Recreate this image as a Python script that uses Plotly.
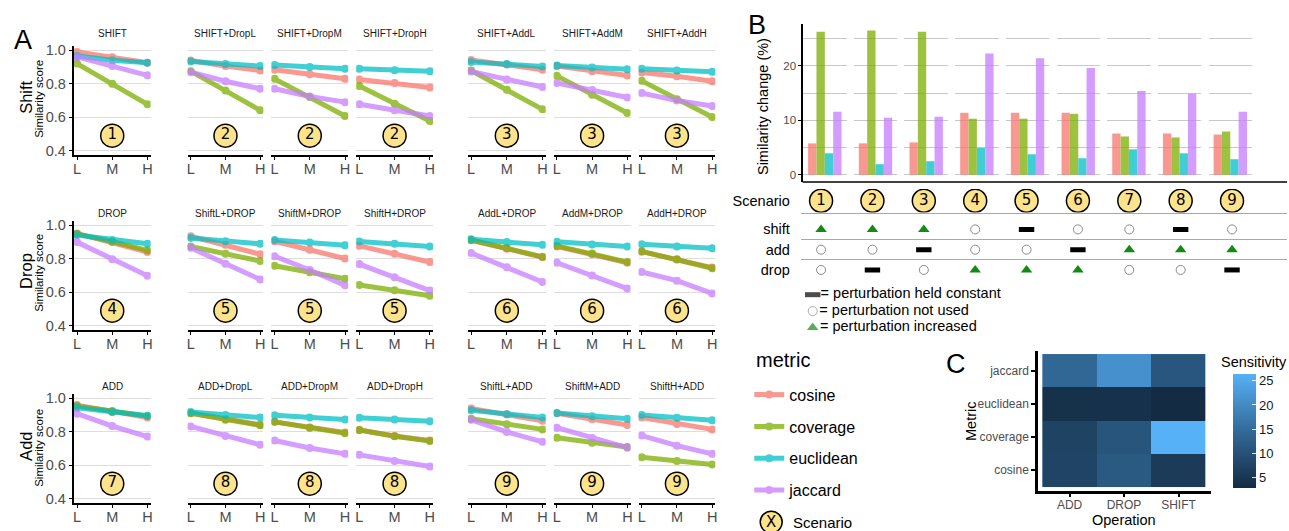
import plotly.graph_objects as go

W, H = 1289, 531
FONT = "Liberation Sans"
GRAY = "#4D4D4D"

# ---------------- data ----------------
levels = ["L", "M", "H"]
metrics = ["cosine", "coverage", "euclidean", "jaccard"]
metric_colors = ["#F8766D", "#7CAE00", "#00BFC4", "#C77CFF"]

row_names = ["Shift", "Drop", "Add"]
panel_titles = [
    ["SHIFT", "SHIFT+DropL", "SHIFT+DropM", "SHIFT+DropH", "SHIFT+AddL", "SHIFT+AddM", "SHIFT+AddH"],
    ["DROP", "ShiftL+DROP", "ShiftM+DROP", "ShiftH+DROP", "AddL+DROP", "AddM+DROP", "AddH+DROP"],
    ["ADD", "ADD+DropL", "ADD+DropM", "ADD+DropH", "ShiftL+ADD", "ShiftM+ADD", "ShiftH+ADD"],
]
panel_scenarios = [[1, 2, 2, 2, 3, 3, 3], [4, 5, 5, 5, 6, 6, 6], [7, 8, 8, 8, 9, 9, 9]]

cosine_scores = [
    [[0.990, 0.958, 0.925], [0.939, 0.905, 0.879], [0.883, 0.857, 0.829], [0.825, 0.804, 0.778],
     [0.942, 0.915, 0.883], [0.905, 0.875, 0.849], [0.867, 0.845, 0.815]],
    [[0.951, 0.899, 0.840], [0.934, 0.883, 0.827], [0.904, 0.854, 0.801], [0.877, 0.830, 0.780],
     [0.910, 0.860, 0.809], [0.873, 0.827, 0.776], [0.842, 0.797, 0.747]],
    [[0.959, 0.920, 0.885], [0.912, 0.875, 0.842], [0.859, 0.826, 0.795], [0.810, 0.775, 0.748],
     [0.939, 0.904, 0.865], [0.910, 0.875, 0.840], [0.885, 0.846, 0.814]],
]
coverage_scores = [
    [[0.920, 0.800, 0.677], [0.875, 0.760, 0.641], [0.829, 0.720, 0.607], [0.786, 0.680, 0.577],
     [0.879, 0.764, 0.647], [0.847, 0.734, 0.625], [0.817, 0.708, 0.601]],
    [[0.947, 0.903, 0.850], [0.873, 0.830, 0.786], [0.758, 0.719, 0.680], [0.643, 0.612, 0.579],
     [0.912, 0.864, 0.811], [0.877, 0.831, 0.780], [0.844, 0.795, 0.743]],
    [[0.953, 0.924, 0.894], [0.910, 0.871, 0.838], [0.859, 0.824, 0.791], [0.810, 0.773, 0.745],
     [0.877, 0.844, 0.814], [0.764, 0.734, 0.709], [0.648, 0.625, 0.605]],
]
euclidean_scores = [
    [[0.965, 0.940, 0.925], [0.933, 0.917, 0.905], [0.911, 0.899, 0.889], [0.889, 0.881, 0.875],
     [0.929, 0.917, 0.903], [0.909, 0.897, 0.887], [0.889, 0.879, 0.871]],
    [[0.942, 0.912, 0.889], [0.924, 0.904, 0.889], [0.912, 0.897, 0.881], [0.903, 0.889, 0.873],
     [0.916, 0.899, 0.883], [0.901, 0.885, 0.873], [0.887, 0.873, 0.862]],
    [[0.943, 0.918, 0.896], [0.918, 0.900, 0.885], [0.898, 0.885, 0.873], [0.883, 0.873, 0.863],
     [0.928, 0.904, 0.885], [0.912, 0.893, 0.877], [0.900, 0.883, 0.869]],
]
jaccard_scores = [
    [[0.960, 0.905, 0.850], [0.869, 0.815, 0.770], [0.770, 0.724, 0.690], [0.677, 0.641, 0.607],
     [0.873, 0.825, 0.780], [0.804, 0.762, 0.718], [0.744, 0.700, 0.667]],
    [[0.899, 0.797, 0.698], [0.865, 0.770, 0.676], [0.815, 0.733, 0.641], [0.768, 0.690, 0.610],
     [0.834, 0.749, 0.661], [0.776, 0.700, 0.622], [0.721, 0.669, 0.593]],
    [[0.908, 0.834, 0.771], [0.832, 0.775, 0.722], [0.748, 0.703, 0.668], [0.662, 0.625, 0.592],
     [0.871, 0.799, 0.740], [0.824, 0.762, 0.705], [0.777, 0.717, 0.668]],
]

scenarios = [1, 2, 3, 4, 5, 6, 7, 8, 9]
change_cosine = [5.76, 5.76, 5.94, 11.39, 11.39, 11.39, 7.58, 7.58, 7.39]
change_coverage = [26.3, 26.5, 26.3, 10.3, 10.3, 11.2, 7.03, 6.85, 7.94]
change_euclidean = [3.94, 1.94, 2.48, 4.91, 3.76, 3.03, 4.67, 3.94, 2.85]
change_jaccard = [11.58, 10.48, 10.67, 22.3, 21.4, 19.6, 15.4, 14.9, 11.58]

table_rows = ["shift", "add", "drop"]
shift_state = ["inc", "inc", "inc", "none", "const", "none", "none", "const", "none"]
add_state = ["none", "none", "const", "none", "none", "const", "inc", "inc", "inc"]
drop_state = ["none", "const", "none", "inc", "inc", "inc", "none", "none", "const"]
key_labels = ["= perturbation held constant", "= perturbation not used", "= perturbation increased"]

operations = ["ADD", "DROP", "SHIFT"]
heat_metrics = ["cosine", "coverage", "euclidean", "jaccard"]
sensitivity = [
    [7.52, 11.39, 5.82],
    [7.27, 10.60, 26.37],
    [3.82, 3.90, 2.79],
    [13.96, 21.10, 10.91],
]

# ---------------- helpers ----------------
def dx(a, b):
    return [a / W, b / W]


def dy(top, bottom):
    return [1 - bottom / H, 1 - top / H]


fig = go.Figure()
layout = {}
annotations = []
shapes = []
_count = [0]


def new_axes(xd, yd, xa, ya):
    _count[0] += 1
    n = _count[0]
    s = "" if n == 1 else str(n)
    layout["xaxis" + s] = dict(domain=xd, anchor="y" + s, fixedrange=True, **xa)
    layout["yaxis" + s] = dict(domain=yd, anchor="x" + s, fixedrange=True, **ya)
    return "x" + s, "y" + s


def text(x, y, t, size, color="black", xanchor="center", angle=0, family=FONT):
    annotations.append(dict(x=x / W, y=1 - y / H, xref="paper", yref="paper", text=t,
                            showarrow=False, xanchor=xanchor, yanchor="middle",
                            textangle=angle, font=dict(size=size, color=color, family=family)))


SCEN_FILL = "#FDE38C"
SCEN_Y = 0.49

# ---------------- panel A ----------------
scores = {"cosine": cosine_scores, "coverage": coverage_scores,
          "euclidean": euclidean_scores, "jaccard": jaccard_scores}
col_x = [(73, 150), (187, 263), (271, 348), (356, 433), (468, 546), (554, 631), (639, 716)]
row_y = [(43, 154), (220, 331), (395, 506)]
title_y = [31, 213, 388]
rowlabel_y = [95, 271, 448]

for r in range(3):
    for c in range(7):
        first = c == 0
        xa = dict(type="category", categoryorder="array", categoryarray=levels,
                  range=[-0.09, 2.09], showline=True, linecolor="black", linewidth=2,
                  ticks="outside", ticklen=3, tickwidth=1, tickcolor="black",
                  ticklabelstandoff=-4,
                  tickfont=dict(size=14.5, color=GRAY), showgrid=False, zeroline=False)
        ya = dict(range=[0.373, 1.028], tickvals=[0.4, 0.6, 0.8, 1.0], tickformat=".1f",
                  showgrid=True, gridcolor="#DDDDDD", gridwidth=1.2, zeroline=False,
                  showline=first, linecolor="black", linewidth=2,
                  ticks="outside" if first else "", ticklen=3, tickcolor="black",
                  showticklabels=first, tickfont=dict(size=14.5, color=GRAY))
        xr, yr = new_axes(dx(*col_x[c]), dy(*row_y[r]), xa, ya)
        for m, colr in zip(metrics, metric_colors):
            fig.add_trace(go.Scatter(
                x=levels, y=scores[m][r][c], xaxis=xr, yaxis=yr, mode="lines+markers",
                line=dict(color=colr, width=5), marker=dict(color=colr, size=8),
                opacity=0.75, name=m, legendgroup=m, showlegend=(r == 0 and c == 0),
                hoverinfo="skip"))
        fig.add_trace(go.Scatter(
            x=["M"], y=[SCEN_Y], xaxis=xr, yaxis=yr, mode="markers+text",
            text=[str(panel_scenarios[r][c])], textposition="middle center",
            textfont=dict(size=15, color="black", family="DejaVu Sans"),
            marker=dict(size=23, color=SCEN_FILL, line=dict(color="black", width=1.5)),
            showlegend=False, hoverinfo="skip"))
        text((col_x[c][0] + col_x[c][1]) / 2, title_y[r], panel_titles[r][c], 10, "#1A1A1A")
    text(25, rowlabel_y[r], row_names[r], 16.5, angle=-90)
    text(38, rowlabel_y[r] + 2, "Similarity score", 11.5, angle=-90)

text(22, 37, "A", 27)

# ---------------- panel B bars ----------------
B_LEFT, B_PITCH, B_W = 804, 50.8, 43.5
B_TOP, B_BOT = 21.7, 181
for i in range(9):
    x0 = B_LEFT + i * B_PITCH
    xa = dict(type="category", categoryorder="array", categoryarray=metrics, range=[-1.1, 4.1],
              showticklabels=False, showgrid=False, zeroline=False, showline=False, ticks="")
    ya = dict(range=[-1.33, 27.63], tickvals=[0, 10, 20], showgrid=True, gridcolor="#C8C8C8",
              gridwidth=1.3,
              minor=dict(tickvals=[5, 15, 25], showgrid=True, gridcolor="#C8C8C8", gridwidth=1.3),
              zeroline=False, showline=(i == 0), linecolor="black", linewidth=1.5,
              ticks="outside" if i == 0 else "", ticklen=3, tickcolor="black",
              showticklabels=(i == 0), tickfont=dict(size=11.5, color=GRAY))
    xr, yr = new_axes(dx(x0, x0 + B_W), dy(B_TOP, B_BOT), xa, ya)
    vals = [change_cosine[i], change_coverage[i], change_euclidean[i], change_jaccard[i]]
    fig.add_trace(go.Bar(x=metrics, y=vals, xaxis=xr, yaxis=yr, width=1,
                         marker=dict(color=metric_colors, line=dict(width=0)), opacity=0.75,
                         showlegend=False, hoverinfo="skip"))

shapes.append(dict(type="line", xref="paper", yref="paper", x0=(B_LEFT - 0.5) / W, x1=1,
                   y0=1 - B_BOT / H, y1=1 - B_BOT / H, line=dict(color="black", width=1.5)))
text(758, 22, "B", 27)
text(764, 105, "Similarity change (%)", 14.5, angle=-90)

# ---------------- panel B table ----------------
T_LEFT = 801.7
T_RANGE = [0.606, 10.07]
xa = dict(range=T_RANGE, showline=True, linecolor="#A8A8A8", linewidth=1.2, showticklabels=False,
          showgrid=False, zeroline=False, ticks="")
ya = dict(range=[0, 1], tickvals=[0.5], ticktext=["Scenario"], showgrid=False, zeroline=False,
          showline=False, ticks="", tickfont=dict(size=14.5, color="black"), ticklabelstandoff=10)
xr, yr = new_axes(dx(T_LEFT, W), dy(188, 212), xa, ya)
fig.add_trace(go.Scatter(
    x=scenarios, y=[0.5] * len(scenarios), xaxis=xr, yaxis=yr, mode="markers+text",
    text=[str(s) for s in scenarios], textposition="middle center",
    textfont=dict(size=15, color="black", family="DejaVu Sans"),
    marker=dict(size=23, color=SCEN_FILL, line=dict(color="black", width=1.5)),
    showlegend=False, hoverinfo="skip"))

xa = dict(range=T_RANGE, showline=False, showticklabels=False, showgrid=False, zeroline=False, ticks="")
ya = dict(range=[2.5, -0.5], tickvals=[0, 1, 2], ticktext=table_rows, showgrid=False,
          minor=dict(tickvals=[0.5, 1.5], showgrid=True, gridcolor="#A8A8A8", gridwidth=1.2),
          zeroline=False, showline=False, ticks="", tickfont=dict(size=14.5, color="black"),
          ticklabelstandoff=10)
xr, yr = new_axes(dx(T_LEFT, W), dy(218.75, 280.25), xa, ya)

state_style = {
    "inc": dict(symbol="triangle-up", size=10, color="#138A13", line=dict(width=0, color="#138A13")),
    "none": dict(symbol="circle-open", size=9, color="#8A8A8A", line=dict(width=1, color="#8A8A8A")),
    "const": dict(symbol="line-ew", size=11, color="black", line=dict(width=5, color="black")),
}
for ri, states in enumerate([shift_state, add_state, drop_state]):
    for kind, style in state_style.items():
        xs = [s for s, st in zip(scenarios, states) if st == kind]
        if xs:
            fig.add_trace(go.Scatter(x=xs, y=[ri] * len(xs), xaxis=xr, yaxis=yr, mode="markers",
                                     marker=style, showlegend=False, hoverinfo="skip"))

# key for the table symbols
xa = dict(range=[-0.045, 1], showline=False, showticklabels=False, showgrid=False, zeroline=False, ticks="")
ya = dict(range=[2.5, -0.5], showline=False, showticklabels=False, showgrid=False, zeroline=False, ticks="")
xr, yr = new_axes(dx(805, 1005), dy(286.7, 336.6), xa, ya)
fig.add_trace(go.Scatter(
    x=[0, 0, 0], y=[0, 1, 2], xaxis=xr, yaxis=yr, mode="markers+text", text=key_labels,
    textposition="middle right", textfont=dict(size=14.5, color="black"),
    marker=dict(symbol=["line-ew", "circle-open", "triangle-up"], size=[11, 9, 10],
                color=["black", "#8A8A8A", "#138A13"],
                line=dict(width=[5, 1, 0], color=["black", "#8A8A8A", "#138A13"])),
    showlegend=False, hoverinfo="skip"))

# ---------------- legend title and scenario key ----------------
text(755, 361, "metric", 20, xanchor="left")
shapes.append(dict(type="circle", xref="paper", yref="paper", x0=(772 - 11) / W, x1=(772 + 11) / W,
                   y0=1 - (525 + 11) / H, y1=1 - (525 - 11) / H, fillcolor=SCEN_FILL,
                   line=dict(color="black", width=1.5)))
text(772, 525, "X", 15, family="DejaVu Sans")
text(792, 525, "Scenario", 15, xanchor="left")

# ---------------- panel C heatmap ----------------
xa = dict(type="category", categoryorder="array", categoryarray=operations, range=[-0.58, 2.6],
          showline=True, linecolor="black", linewidth=2.5, ticks="outside", ticklen=4, tickwidth=2,
          tickcolor="black", tickfont=dict(size=12, color=GRAY), showgrid=False, zeroline=False,
          ticklabelstandoff=-3)
ya = dict(type="category", categoryorder="array", categoryarray=heat_metrics, range=[-0.62, 3.6],
          showline=True, linecolor="black", linewidth=2.5, ticks="outside", ticklen=4, tickwidth=2,
          tickcolor="black", tickfont=dict(size=12, color=GRAY), showgrid=False, zeroline=False)
xr, yr = new_axes(dx(1039.4, 1213), dy(351.7, 493.3), xa, ya)
flat = [v for row in sensitivity for v in row]
fig.add_trace(go.Heatmap(
    z=sensitivity, x=operations, y=heat_metrics, xaxis=xr, yaxis=yr,
    zmin=min(flat), zmax=max(flat),
    colorscale=[[0, "#132B43"], [0.5, "#336A98"], [1, "#56B1F7"]],
    hoverinfo="skip",
    colorbar=dict(x=1234.5 / W, xanchor="left", xpad=0, ypad=0, thickness=23,
                  thicknessmode="pixels", len=115.7 / H, lenmode="fraction",
                  y=1 - 490.7 / H, yanchor="bottom", tickvals=[5, 10, 15, 20, 25],
                  ticks="inside", ticklen=4, tickcolor="rgba(255,255,255,0.85)",
                  tickfont=dict(size=13, color="#1A1A1A"), outlinewidth=0)))
text(957, 365, "C", 27)
text(972, 423, "Metric", 14.5, angle=-90)
text(1126, 523, "Operation", 14.5)
text(1221, 363, "Sensitivity", 14.5, xanchor="left")

# ---------------- layout ----------------
layout.update(dict(
    width=W, height=H, margin=dict(l=0, r=0, t=0, b=0),
    paper_bgcolor="white", plot_bgcolor="white",
    font=dict(family=FONT, color="black"),
    showlegend=True,
    legend=dict(x=750 / W, y=1 - 379 / H, xanchor="left", yanchor="top",
                font=dict(size=16, color="black"), tracegroupgap=8,
                bgcolor="rgba(0,0,0,0)", itemwidth=30),
    annotations=annotations, shapes=shapes, barmode="group",
))
fig.update_layout(**layout)
fig.write_html("out.html", config={"displayModeBar": False},
               post_script="document.body.style.margin='0';document.body.style.overflow='hidden';")
